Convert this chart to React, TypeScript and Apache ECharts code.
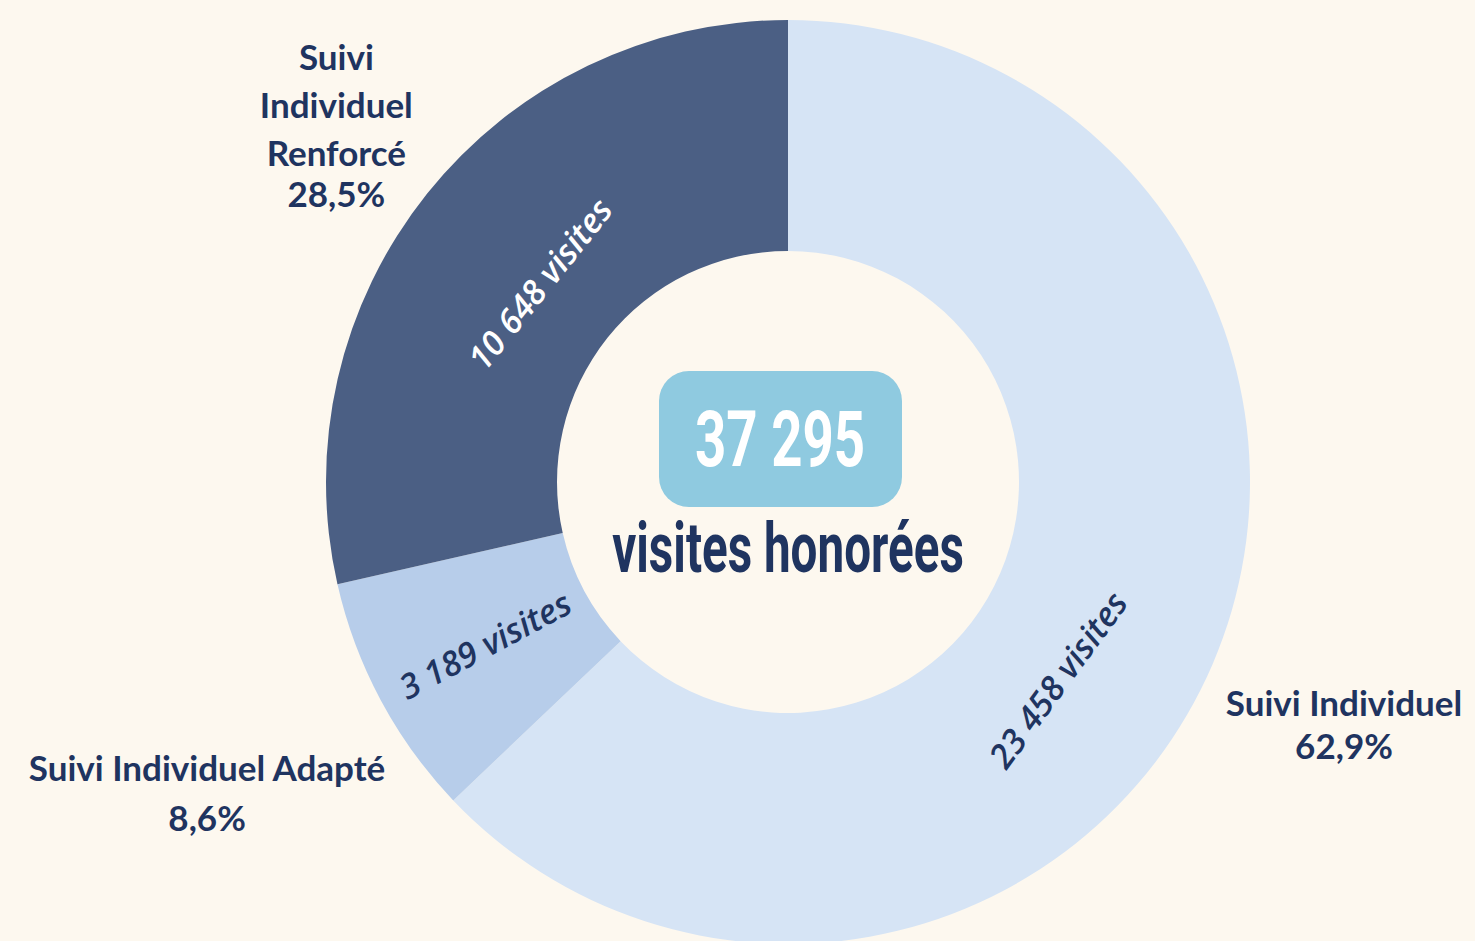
import React, { useEffect, useRef } from "react";
import * as echarts from "echarts";

// ---- data ----
const categories = ["Suivi Individuel", "Suivi Individuel Adapté", "Suivi Individuel Renforcé"];
const visits = [23458, 3189, 10648];
const shareLabels = ["62,9%", "8,6%", "28,5%"];
const outerNameLines = [["Suivi Individuel"], ["Suivi Individuel Adapté"], ["Suivi", "Individuel", "Renforcé"]];
const visitsSuffix = "visites";
const totalCaption = "visites honorées";

// ---- layout / style ----
const W = 1475;
const H = 941;
const CX = 788;
const CY = 482;
const R_IN = 231;
const R_OUT = 462;
const NAVY = "#1F3460";
const BG = "#FDF8EF";
const sliceColors = ["#D6E4F5", "#B7CDEA", "#4B5F84"];
const innerTextColors = [NAVY, NAVY, "#FFFFFF"];
const innerRotMode = ["tangential", "radial", "tangential"];
const innerAngleShift = [13, 0, 0];
const innerRadius = [334, 344, 318];
const outerRadius = [605, 659, 578];
const LABEL_FONT = "Lato";
const OUT_SIZE = 35;

const fmt = (n: number) => String(n).replace(/\B(?=(\d{3})+(?!\d))/g, " ");
const total = visits.reduce((a, b) => a + b, 0);
const midAngles = (() => {
  let acc = 0;
  return visits.map((v) => {
    const a = ((acc + v / 2) / total) * 360;
    acc += v;
    return a;
  });
})();
const polar = (r: number, deg: number) => {
  const t = (deg * Math.PI) / 180;
  return [CX + r * Math.sin(t), CY - r * Math.cos(t)];
};
const norm = (a: number) => {
  while (a > 90) a -= 180;
  while (a <= -90) a += 180;
  return a;
};

export default function App() {
  const ref = useRef<HTMLDivElement>(null);
  useEffect(() => {
    document.body.style.margin = "0";
    const chart = echarts.init(ref.current!, null, { renderer: "svg" });
    const pieData = categories.map((c, i) => ({
      name: c,
      value: visits[i],
      itemStyle: { color: sliceColors[i] },
      label: { color: innerTextColors[i] },
    }));
    const richBase = { color: NAVY, fontFamily: LABEL_FONT, fontWeight: "bold", fontSize: OUT_SIZE };
    const option: any = {
      animation: false,
      backgroundColor: BG,
      series: [
        {
          type: "pie",
          center: [CX, CY],
          radius: [R_IN, R_OUT],
          startAngle: 90,
          clockwise: true,
          silent: true,
          avoidLabelOverlap: false,
          itemStyle: { borderWidth: 0 },
          label: {
            show: true,
            position: "inside",
            formatter: (p: any) => `${fmt(p.value)} ${visitsSuffix}`,
            fontFamily: "Open Sans",
            fontStyle: "italic",
            fontWeight: 600,
            fontSize: 34,
          },
          labelLine: { show: false },
          labelLayout: (p: any) => {
            const i = p.dataIndex;
            const ang = midAngles[i] + innerAngleShift[i];
            const [x, y] = polar(innerRadius[i], ang);
            const rot = innerRotMode[i] === "radial" ? norm(90 - ang) : norm(-ang);
            return { x, y, rotate: rot, align: "center", verticalAlign: "middle" };
          },
          data: pieData,
        },
        {
          type: "pie",
          center: [CX, CY],
          radius: [R_IN, R_OUT],
          startAngle: 90,
          clockwise: true,
          silent: true,
          avoidLabelOverlap: false,
          itemStyle: { color: "rgba(0,0,0,0)", borderWidth: 0 },
          label: {
            show: true,
            position: "outside",
            color: NAVY,
            fontFamily: LABEL_FONT,
            fontWeight: "bold",
            fontSize: OUT_SIZE,
            formatter: (p: any) => {
              const i = p.dataIndex;
              const names = outerNameLines[i].map((s) => `{n|${s}}`).join("\n");
              return `${names}\n{p${i}|${shareLabels[i]}}`;
            },
            rich: {
              n: { ...richBase, lineHeight: 48 },
              p0: { ...richBase, lineHeight: 38 },
              p1: { ...richBase, lineHeight: 52 },
              p2: { ...richBase, lineHeight: 34 },
            },
          },
          labelLine: { show: false },
          labelLayout: (p: any) => {
            const i = p.dataIndex;
            const [x, y] = polar(outerRadius[i], midAngles[i]);
            return { x, y, rotate: 0, align: "center", verticalAlign: "middle" };
          },
          data: categories.map((c, i) => ({ name: c, value: visits[i] })),
        },
      ],
      graphic: [
        {
          type: "rect",
          silent: true,
          shape: { x: CX - 129, y: CY - 111, width: 243, height: 136, r: 30 },
          style: { fill: "#8FCAE0" },
        },
        {
          type: "text",
          silent: true,
          x: CX - 8,
          y: CY - 43,
          scaleX: 0.7,
          style: {
            text: fmt(total),
            fill: "#FFFFFF",
            fontFamily: "Roboto",
            fontWeight: "bold",
            fontSize: 78,
            align: "center",
            verticalAlign: "middle",
          },
        },
        {
          type: "text",
          silent: true,
          x: CX,
          y: CY + 66,
          scaleX: 0.68,
          style: {
            text: totalCaption,
            fill: NAVY,
            fontFamily: "Roboto",
            fontWeight: "bold",
            fontSize: 70,
            align: "center",
            verticalAlign: "middle",
          },
        },
      ],
    };
    chart.setOption(option);
    return () => chart.dispose();
  }, []);
  return <div ref={ref} style={{ width: W, height: H }} />;
}
